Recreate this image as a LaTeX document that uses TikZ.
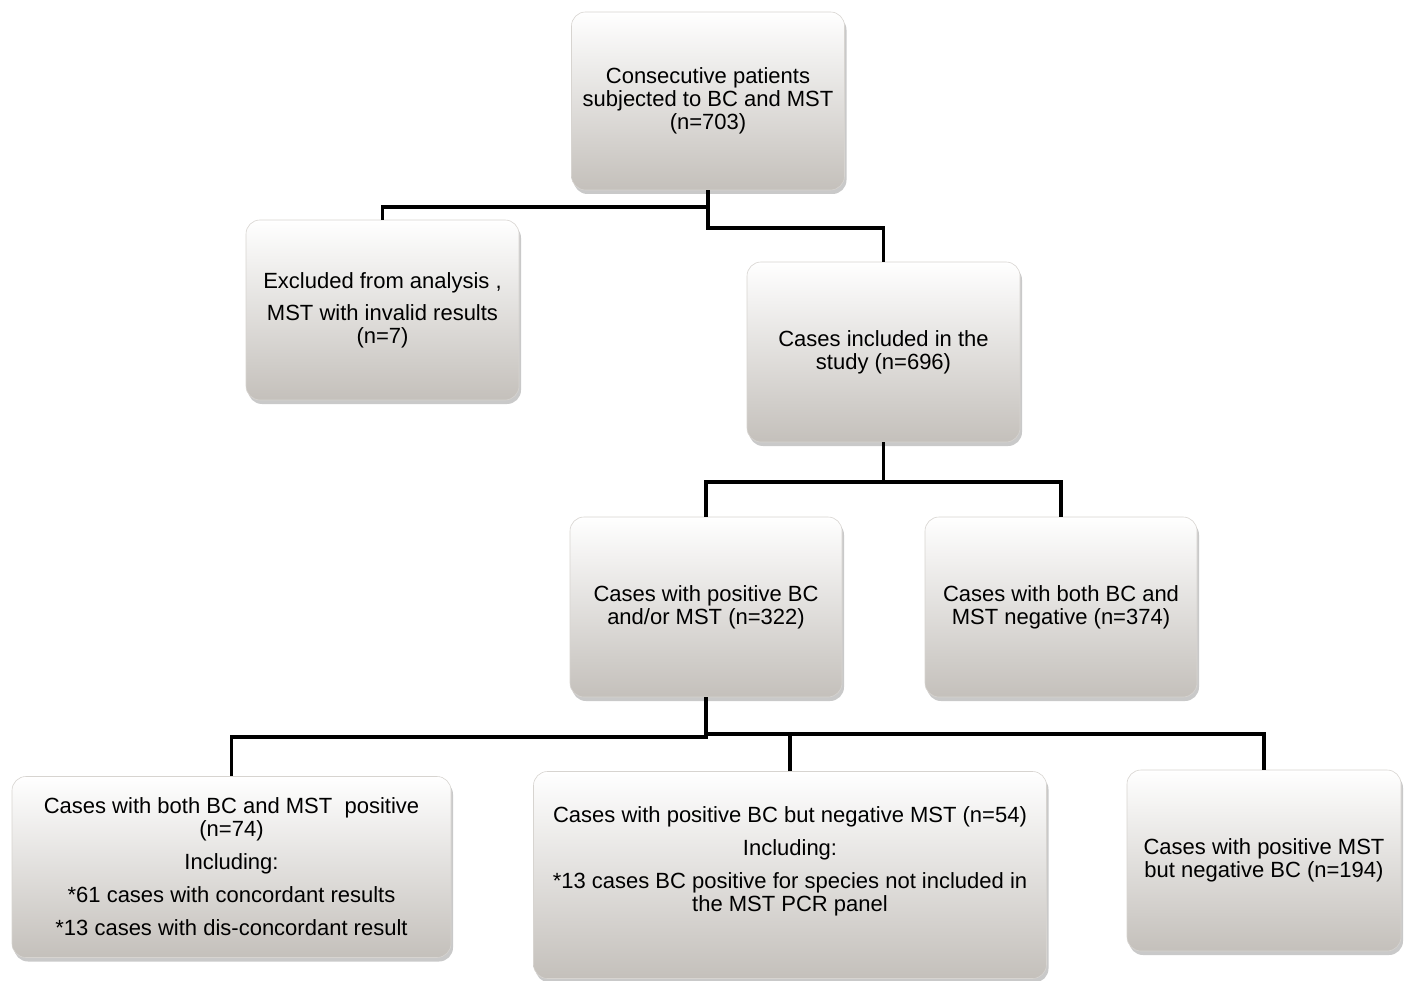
\documentclass[tikz,border=0pt]{standalone}
\usepackage{fontspec}
\setmainfont{Liberation Sans}
\usepackage{tikz}
\usetikzlibrary{shadows}
\definecolor{boxbot}{RGB}{196,192,187}
\definecolor{boxedge}{RGB}{215,212,208}
\tikzset{
  flowbox/.style={rounded corners=14pt, draw=boxedge, line width=0.6pt,
    top color=white, bottom color=boxbot, inner sep=0pt, align=center,
    font=\fontsize{22}{23}\selectfont,
    drop shadow={shadow xshift=2pt, shadow yshift=-4pt, opacity=0.3, fill=black!70}},
  txt/.style={align=center, inner sep=0pt, font=\fontsize{22}{23}\selectfont},
  link/.style={line width=3.6pt, black}
}
\begin{document}
\begin{tikzpicture}[x=1pt,y=-1pt]
  \useasboundingbox (0,0) rectangle (1407,981);
  % boxes
  \node[flowbox, minimum width=273pt, minimum height=178pt] (top) at (708,101)
    {Consecutive patients\\subjected to BC and MST\\(n=703)};
  \node[flowbox, minimum width=273pt, minimum height=180pt] (excl) at (382.5,310)
    {Excluded from analysis ,\\[9pt]MST with invalid results\\(n=7)};
  \node[flowbox, minimum width=273pt, minimum height=180pt] (incl) at (883.5,352)
    {Cases included in the\\study (n=696)};
  \node[flowbox, minimum width=272pt, minimum height=180pt] (pos) at (706,607)
    {Cases with positive BC\\and/or MST (n=322)};
  \node[flowbox, minimum width=272pt, minimum height=180pt] (neg) at (1061,607)
    {Cases with both BC and\\MST negative (n=374)};
  \node[flowbox, minimum width=439pt, minimum height=181pt] (both) at (231.5,867)
    {Cases with both BC and MST\ \ positive\\(n=74)\\[10pt]Including:\\[10pt]*61 cases with concordant results\\[10pt]*13 cases with dis-concordant result};
  \node[flowbox, minimum width=513pt, minimum height=207pt] (bcneg) at (790,875) {};
  \node[txt] (bcnegtxt) at ([yshift=14pt]bcneg.center)
    {Cases with positive BC but negative MST (n=54)\\[10pt]Including:\\[10pt]*13 cases BC positive for species not included in\\the MST PCR panel};
  \node[flowbox, minimum width=274pt, minimum height=181pt] (mst) at (1264,860.5)
    {Cases with positive MST\\but negative BC (n=194)};
  % connectors
  \coordinate (j1) at (708,228);
  \draw[link] (top.south) -- (j1) -| (incl.north);
  \draw[link] (top.south |- 0,207) -| (excl.north);
  \draw[link] (incl.south) -- (incl.south |- 0,482);
  \draw[link] (pos.north) |- (incl.south |- 0,482) -| (neg.north);
  \draw[link] (pos.south) -- (pos.south |- 0,737) -| (both.north);
  \draw[link] (pos.south |- 0,734) -| (mst.north);
  \draw[link] (bcneg.north) -- (bcneg.north |- 0,734);
\end{tikzpicture}
\end{document}
